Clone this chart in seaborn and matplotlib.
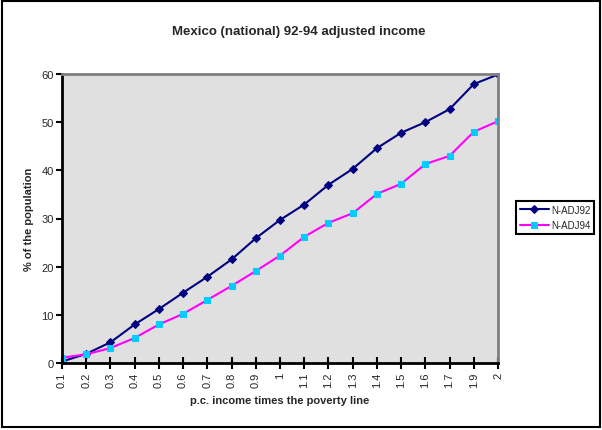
import matplotlib
matplotlib.use("Agg")
import matplotlib.pyplot as plt
import seaborn as sns
import pandas as pd
from matplotlib.patches import Rectangle

# Poverty-line multiples (categorical axis; 1.8 is not reported)
categories = ["0.1", "0.2", "0.3", "0.4", "0.5", "0.6", "0.7", "0.8", "0.9", "1",
              "1.1", "1.2", "1.3", "1.4", "1.5", "1.6", "1.7", "1.9", "2"]
n_adj92 = [0.3, 1.9, 4.3, 8.0, 11.2, 14.6, 17.9, 21.5, 25.9, 29.7,
           32.9, 37.0, 40.3, 44.6, 47.8, 50.0, 52.7, 57.9, 59.9]
n_adj94 = [1.1, 1.8, 3.1, 5.2, 8.0, 10.2, 13.1, 16.0, 19.1, 22.3,
           26.2, 29.1, 31.1, 35.1, 37.2, 41.3, 43.0, 48.0, 50.2]

df = pd.DataFrame({
    "pos": list(range(len(categories))),
    "N-ADJ92": n_adj92,
    "N-ADJ94": n_adj94,
})

sns.set_theme(style="white")
plt.rcParams["font.family"] = ["Liberation Sans", "DejaVu Sans"]

fig = plt.figure(figsize=(6.02, 4.31), dpi=100)
fig.patch.set_facecolor("white")
ax = fig.add_axes([62 / 602, 67 / 431, 436 / 602, 289 / 431])
ax.set_facecolor("#E0E0E0")

sns.lineplot(data=df, x="pos", y="N-ADJ92", ax=ax, color="#000080", lw=1.5,
             marker="D", markersize=4.5, markerfacecolor="#000080",
             markeredgecolor="#000080", label="N-ADJ92")
sns.lineplot(data=df, x="pos", y="N-ADJ94", ax=ax, color="#FF00FF", lw=1.5,
             marker="s", markersize=4.5, markerfacecolor="#00CCFF",
             markeredgecolor="#00CCFF", label="N-ADJ94")

ax.set_xlim(0, len(categories) - 1)
ax.set_ylim(0, 60)
ax.set_xticks(df["pos"])
ax.set_xticklabels(categories, rotation=90, fontsize=8)
ax.set_yticks([0, 10, 20, 30, 40, 50, 60])
ax.tick_params(axis="y", labelsize=8, length=4, width=1.5, color="black",
               direction="out", left=True, pad=2)
ax.tick_params(axis="x", length=8, width=1.5, color="black",
               direction="inout", bottom=True, pad=2)

for side in ("left", "bottom"):
    ax.spines[side].set_color("black")
    ax.spines[side].set_linewidth(2)
for side in ("top", "right"):
    ax.spines[side].set_color("#808080")
    ax.spines[side].set_linewidth(2)

ax.set_xlabel("p.c. income times the poverty line", fontsize=8,
              fontweight="bold", labelpad=6)
ax.set_ylabel("% of the population", fontsize=8, fontweight="bold",
              labelpad=5)
fig.text(0.497, 0.925, "Mexico (national) 92-94 adjusted income",
         ha="center", va="center", fontsize=9.5, fontweight="bold")

ax.get_legend().remove()
handles, labels = ax.get_legend_handles_labels()
leg = fig.legend(handles, labels, loc="center left",
                 bbox_to_anchor=(516 / 602, 0.493), fontsize=7,
                 frameon=True, fancybox=False, framealpha=1,
                 edgecolor="black", handlelength=3, borderpad=0.4,
                 labelspacing=0.6, handletextpad=0.2, borderaxespad=0)
leg.get_frame().set_linewidth(1.5)

# Outer chart frame
fig.patches.append(Rectangle((2 / 602, 3 / 431), 598 / 602, 426 / 431,
                             transform=fig.transFigure, fill=False,
                             edgecolor="black", lw=1.5))

fig.savefig("out.png", dpi=100)
